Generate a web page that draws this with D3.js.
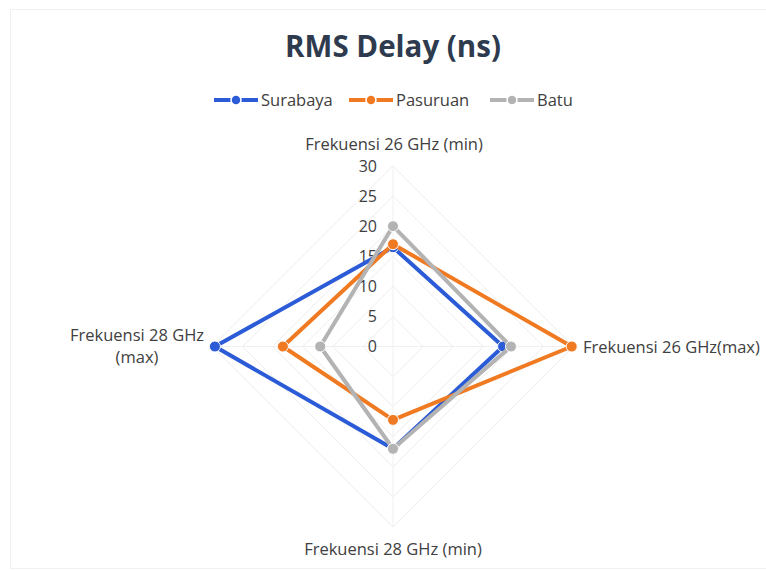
<!DOCTYPE html>
<html>
<head>
<meta charset="utf-8">
<script src="https://cdn.jsdelivr.net/npm/d3@7"></script>
<style>
  body { margin: 0; background: #fff; }
  text { font-family: "Open Sans", Lato, sans-serif; }
</style>
</head>
<body>
<div id="chart"></div>
<script>
// data
var axes = ["Frekuensi 26 GHz (min)", "Frekuensi 26 GHz(max)", "Frekuensi 28 GHz (min)", "Frekuensi 28 GHz (max)"];
var seriesNames = ["Surabaya", "Pasuruan", "Batu"];
var surabaya = [16.5, 18.3, 17, 29.6];
var pasuruan = [17, 29.7, 12.2, 18.3];
var batu = [20, 19.6, 17, 12.1];
var ticks = [0, 5, 10, 15, 20, 25, 30];
var colors = ["#2b5bd6", "#f07a22", "#b3b3b3"];

var svgWidth = 766, svgHeight = 570;
var cx = 393, cy = 346.5, radius = 180.5;

var svg = d3.select("#chart").append("svg")
    .attr("width", svgWidth)
    .attr("height", svgHeight);

// faint frame
svg.append("rect")
    .attr("x", 10.5).attr("y", 9.5)
    .attr("width", 770).attr("height", 559)
    .attr("fill", "none").attr("stroke", "#f0f0f0");

var r = d3.scaleLinear().domain([0, 30]).range([0, radius]);
var angle = d3.scalePoint().domain(axes).range([0, 270]);

function pt(axis, v) {
    var a = (angle(axis) - 90) * Math.PI / 180;
    return [cx + r(v) * Math.cos(a), cy + r(v) * Math.sin(a)];
}

var g = svg.append("g");

// grid diamonds
ticks.slice(1).forEach(function (t) {
    g.append("polygon")
        .attr("points", axes.map(function (a) { return pt(a, t).join(","); }).join(" "))
        .attr("fill", "none")
        .attr("stroke", "#ededed")
        .attr("stroke-width", 1);
});
axes.forEach(function (a) {
    var p = pt(a, 30);
    g.append("line")
        .attr("x1", cx).attr("y1", cy).attr("x2", p[0]).attr("y2", p[1])
        .attr("stroke", "#f0f0f0");
});

// tick labels
g.selectAll(".tick").data(ticks).enter().append("text")
    .attr("x", cx - 16)
    .attr("y", function (d) { return cy - r(d); })
    .attr("dy", "0.35em")
    .attr("text-anchor", "end")
    .attr("font-size", 16)
    .attr("fill", "#404040")
    .text(function (d) { return d; });

// series
var allSeries = [surabaya, pasuruan, batu];
allSeries.forEach(function (vals, i) {
    var pts = axes.map(function (a, j) { return pt(a, vals[j]); });
    g.append("polygon")
        .attr("points", pts.map(function (p) { return p.join(","); }).join(" "))
        .attr("fill", "none")
        .attr("stroke", colors[i])
        .attr("stroke-width", 4)
        .attr("stroke-linejoin", "round");
    g.selectAll(".m" + i).data(pts).enter().append("circle")
        .attr("cx", function (d) { return d[0]; })
        .attr("cy", function (d) { return d[1]; })
        .attr("r", 5.5)
        .attr("fill", colors[i])
        .attr("stroke", "#fff")
        .attr("stroke-width", 1);
});

// axis labels
var lab = svg.append("g").attr("font-size", 16.5).attr("fill", "#404040");
lab.append("text").attr("x", cx + 1).attr("y", 150).attr("text-anchor", "middle").text(axes[0]);
lab.append("text").attr("x", 583).attr("y", 353).text(axes[1]);
lab.append("text").attr("x", cx).attr("y", 555).attr("text-anchor", "middle").text(axes[2]);
var l4 = lab.append("text").attr("text-anchor", "middle");
l4.append("tspan").attr("x", 137).attr("y", 341).text("Frekuensi 28 GHz");
l4.append("tspan").attr("x", 137).attr("y", 363).text("(max)");

// title
svg.append("text")
    .attr("x", 393).attr("y", 57)
    .attr("text-anchor", "middle")
    .attr("font-size", 29.5)
    .attr("font-weight", "bold")
    .attr("fill", "#2e3b4e")
    .text("RMS Delay (ns)");

// legend
var legX = [214, 349, 490];
seriesNames.forEach(function (name, i) {
    var lg = svg.append("g").attr("transform", "translate(" + legX[i] + ",100)");
    lg.append("line").attr("x1", 0).attr("x2", 44).attr("y1", 0).attr("y2", 0)
        .attr("stroke", colors[i]).attr("stroke-width", 4);
    lg.append("circle").attr("cx", 22).attr("cy", 0).attr("r", 5)
        .attr("fill", colors[i]).attr("stroke", "#fff").attr("stroke-width", 1.5);
    lg.append("text").attr("x", 47).attr("y", 0).attr("dy", "0.35em")
        .attr("font-size", 16.5).attr("fill", "#404040").text(name);
});
</script>
</body>
</html>
